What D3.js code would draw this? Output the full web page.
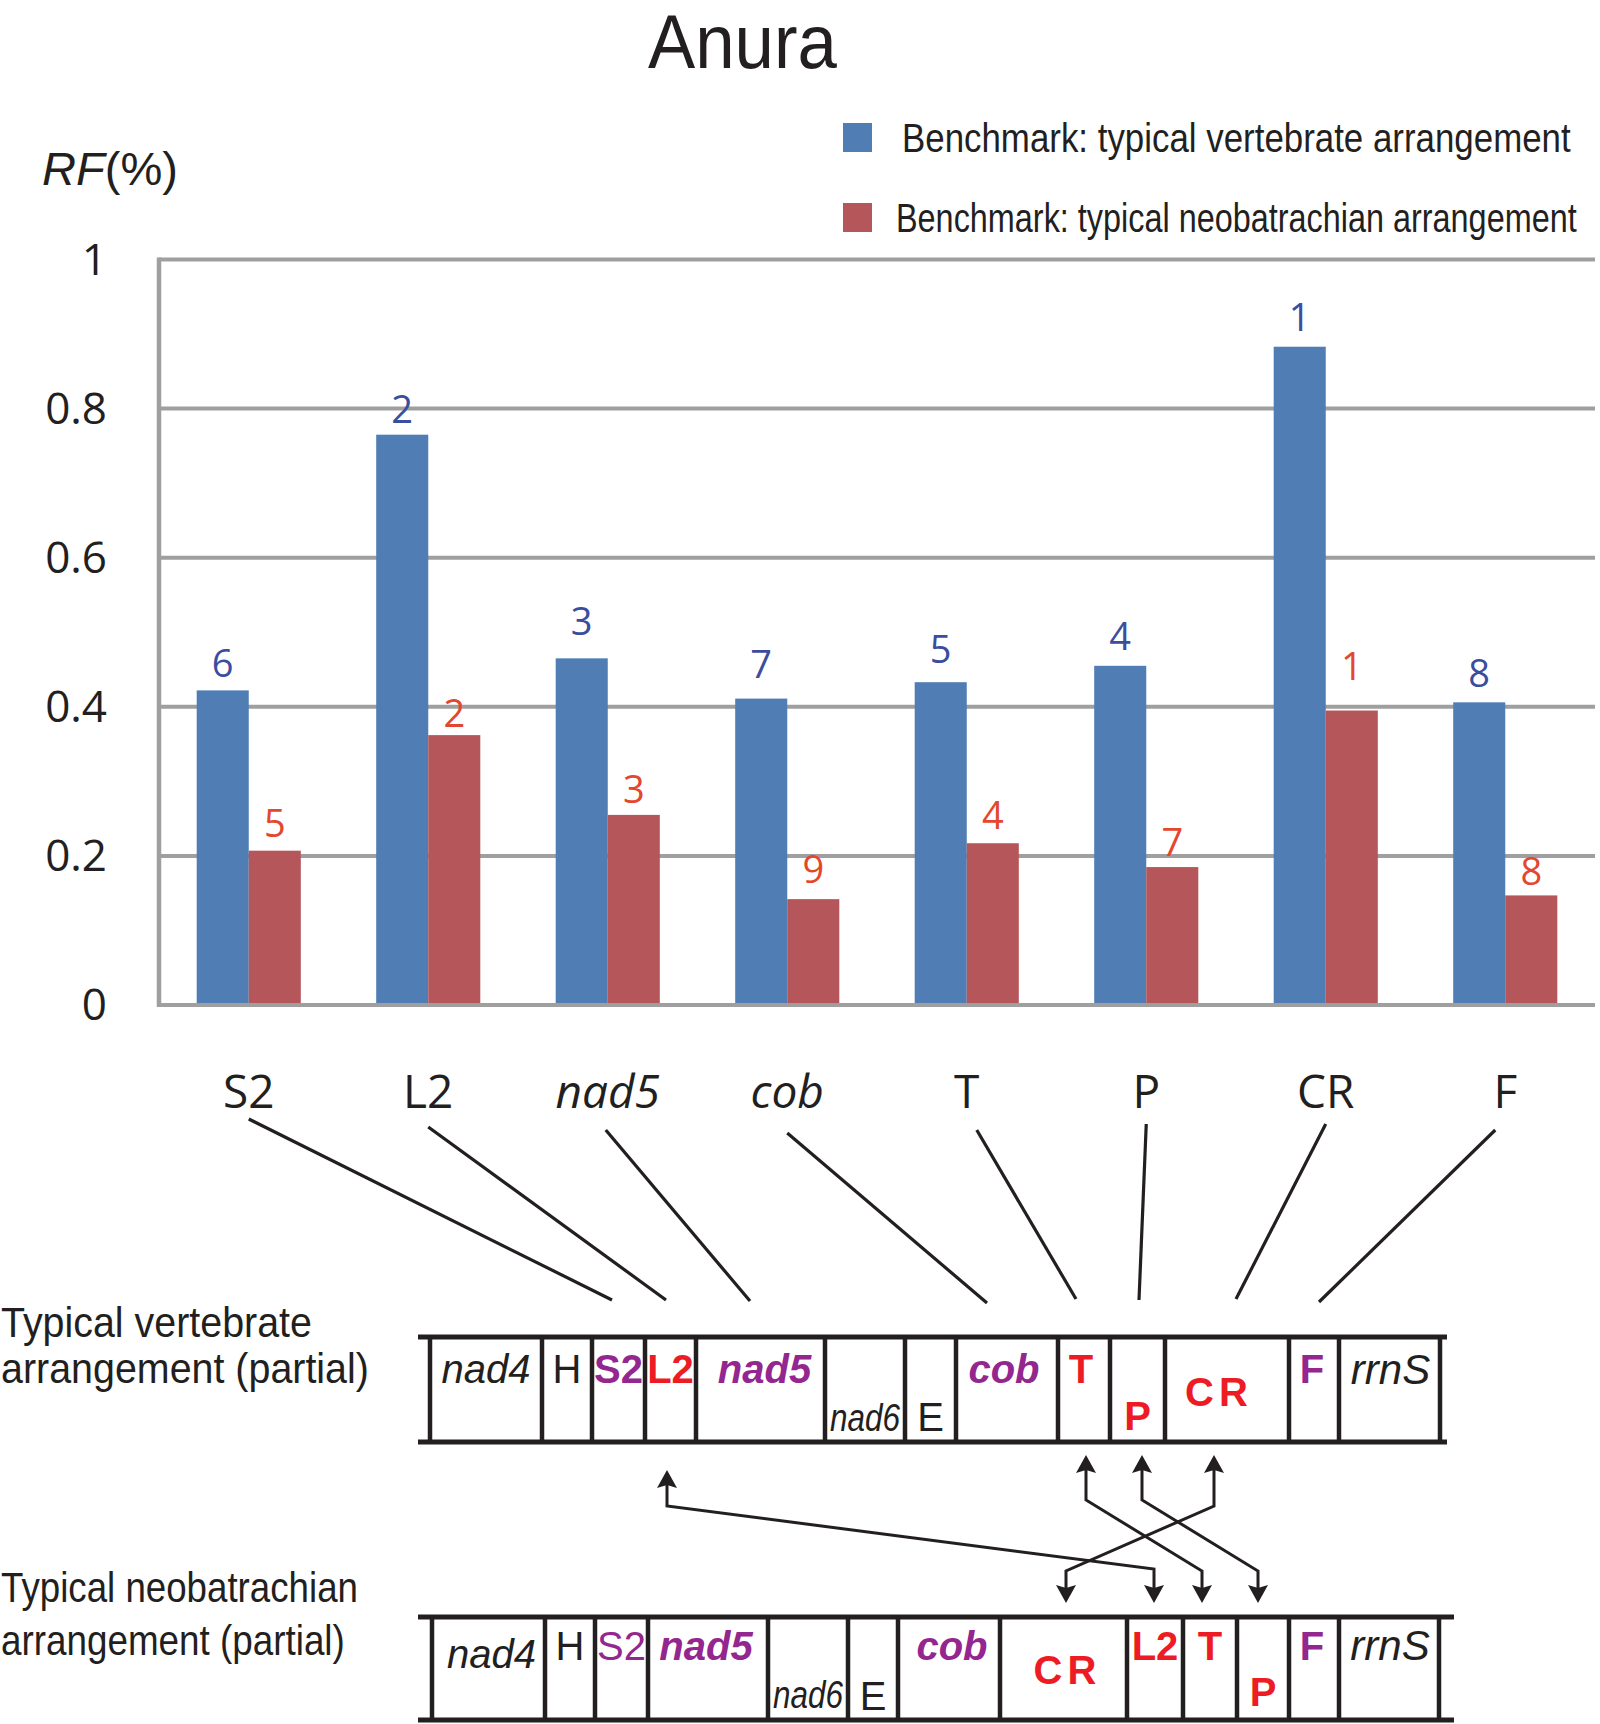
<!DOCTYPE html>
<html><head><meta charset="utf-8">
<script src="https://cdn.jsdelivr.net/npm/d3@7"></script>
<style>body{margin:0;background:#fff} svg{display:block}</style>
</head><body>
<svg id="chart" width="1600" height="1724"></svg>
<script>
// ---------------- DATA ----------------
const categories = ["S2","L2","nad5","cob","T","P","CR","F"];
const italicCategories = ["nad5","cob"];
const seriesNames = ["Benchmark: typical vertebrate arrangement","Benchmark: typical neobatrachian arrangement"];
const vertebrateRF = [0.422,0.765,0.465,0.411,0.433,0.455,0.883,0.406];
const neobatrachianRF = [0.207,0.362,0.255,0.142,0.217,0.185,0.395,0.147];
const vertebrateRank = [6,2,3,7,5,4,1,8];
const neobatrachianRank = [5,2,3,9,4,7,1,8];
const yTicks = [0,0.2,0.4,0.6,0.8,1];
const yTickLabels = ["0","0.2","0.4","0.6","0.8","1"];
const titleText = "Anura";
const yTitle = ["RF","(%)"];

const vertebrateGenes = ["nad4","H","S2","L2","nad5","nad6","E","cob","T","P","CR","F","rrnS"];
const neobatrachianGenes = ["nad4","H","S2","nad5","nad6","E","cob","CR","L2","T","P","F","rrnS"];
const rowTitles = [["Typical vertebrate","arrangement (partial)"],["Typical neobatrachian","arrangement (partial)"]];

// ---------------- LAYOUT / STYLE ----------------
const W = 1600, H = 1724;
const plot = {left:159, right:1595, top:259.5, bottom:1005};
const ink = "#231f20";
const blue = "#4f7db4", red = "#b5565a";
const blueLbl = "#3b4d9e", redLbl = "#e3472e";
const purple = "#93278f", geneRed = "#ed1c24";
const gridCol = "#9f9f9f";
// extra lift of the rank labels above their bars (px)
const labelLift = [[2,1,12,10,8,5,5,4],[3,-3,1,5,3,0,20,-1]];

const cellStyles = {
  it:  {fill:ink, style:"italic", weight:"normal"},
  reg: {fill:ink, style:"normal", weight:"normal"},
  pb:  {fill:purple, style:"normal", weight:"bold"},
  pbi: {fill:purple, style:"italic", weight:"bold"},
  pr:  {fill:purple, style:"normal", weight:"normal"},
  rb:  {fill:geneRed, style:"normal", weight:"bold"}
};
const rows = [
  {genes: vertebrateGenes, top:1337, bottom:1442, x0:418, x1:1447,
   dividers:[430,542,592,645,696,825,905,956,1058,1110,1165,1289,1339,1440],
   styles:["it","reg","pb","rb","pbi","it","reg","pbi","rb","rb","rb","pb","it"],
   base:[46,46,46,46,46,94,94,46,46,93,69,46,47],
   dx:[0,0,0,0,4,0,0,-3,-3,0,-8,-2,1]},
  {genes: neobatrachianGenes, top:1617, bottom:1720, x0:418, x1:1454,
   dividers:[432,545,595,648,768,848,898,1000,1127,1183,1237,1289,1339,1439],
   styles:["it","reg","pr","pbi","it","reg","pbi","rb","rb","rb","rb","pb","it"],
   base:[51,43,43,43,91,93,43,67,43,43,89,43,43],
   dx:[3,0,0,-2,0,0,3,4,0,0,0,-2,1]}
];
const connStartDx = [0,0,-2,0,10,0,0,-10];
const connStartY = [1119,1127,1130,1133,1130,1124,1124,1130];
const connEndX = [612,666,750,987,1076,1139,1236,1319];
const connEndY = [1300,1300,1301,1303,1299,1300,1299,1302];
const arrows = [
  [[667,1470],[667,1506],[1154,1569],[1154,1603]],
  [[1086,1455],[1086,1500],[1202,1571],[1202,1603]],
  [[1142,1455],[1142,1500],[1258,1571],[1258,1603]],
  [[1214,1455],[1214,1506],[1066,1571],[1066,1603]]
];

const svg = d3.select("#chart");
// horizontally compress/stretch a text to a target width (narrow typeface look)
function fitAt(sel, x, y, w){
  sel.attr("x",0).attr("y",0);
  const len = sel.node().getComputedTextLength();
  sel.attr("transform",`translate(${x},${y}) scale(${w/len},1)`);
  return sel;
}

// ---------------- SCALES ----------------
const x0 = d3.scaleBand().domain(categories).range([plot.left, plot.right]).paddingInner(0.42).paddingOuter(0.21);
const x1 = d3.scaleBand().domain([0,1]).range([0, x0.bandwidth()]);
const y = d3.scaleLinear().domain([0,1]).range([plot.bottom, plot.top]);

// title
fitAt(svg.append("text").attr("font-family","'Liberation Sans', Arial, sans-serif")
  .attr("font-size",76).attr("fill",ink).text(titleText), 648, 68, 189);

// y title
const yt = svg.append("text").attr("font-family","'Liberation Sans', Arial, sans-serif")
  .attr("font-size",47).attr("fill",ink);
yt.append("tspan").attr("font-style","italic").text(yTitle[0]);
yt.append("tspan").text(yTitle[1]);
fitAt(yt, 42, 185, 136);

// legend
const legendColors = [blue, red];
const legendPos = [[123,152,902,669],[203,232,896,681]];
seriesNames.forEach((n,i)=>{
  svg.append("rect").attr("x",843).attr("y",legendPos[i][0]).attr("width",29).attr("height",29).attr("fill",legendColors[i]);
  fitAt(svg.append("text").attr("font-family","'Liberation Sans', Arial, sans-serif")
    .attr("font-size",41).attr("fill",ink).text(n), legendPos[i][2], legendPos[i][1], legendPos[i][3]);
});

// gridlines
svg.append("g").selectAll("line").data(yTicks).join("line")
  .attr("x1",plot.left).attr("x2",plot.right).attr("y1",d=>y(d)).attr("y2",d=>y(d))
  .attr("stroke",gridCol).attr("stroke-width",4);
svg.append("line").attr("x1",plot.left).attr("x2",plot.left).attr("y1",y(1)-2).attr("y2",y(0)+2)
  .attr("stroke",gridCol).attr("stroke-width",4.5);

// y axis labels
const gy = svg.append("g").attr("transform","translate(107,0)")
  .call(d3.axisLeft(y).tickValues(yTicks).tickFormat((d,i)=>yTickLabels[i]).tickSize(0).tickPadding(0));
gy.select(".domain").remove();
gy.attr("font-family","'Open Sans', sans-serif").attr("font-size",44);
gy.selectAll("text").attr("fill",ink).attr("dy","0.34em");

// bars
const rf = [vertebrateRF, neobatrachianRF];
const ranks = [vertebrateRank, neobatrachianRank];
const barData = [];
categories.forEach((c,i)=>{ [0,1].forEach(s=>barData.push({c, s, i, v:rf[s][i], r:ranks[s][i]})); });
const gb = svg.append("g");
gb.selectAll("rect").data(barData).join("rect")
  .attr("x",d=>x0(d.c)+x1(d.s)).attr("width",x1.bandwidth())
  .attr("y",d=>y(d.v)).attr("height",d=>y(0)-y(d.v)-2)
  .attr("fill",d=>d.s===0?blue:red);
gb.selectAll("text").data(barData).join("text")
  .attr("x",d=>x0(d.c)+x1(d.s)+x1.bandwidth()/2).attr("y",d=>y(d.v)-11-labelLift[d.s][d.i])
  .attr("text-anchor","middle").attr("font-family","'Open Sans', sans-serif").attr("font-size",38)
  .attr("fill",d=>d.s===0?blueLbl:redLbl).text(d=>d.r);

// category labels
svg.append("g").selectAll("text").data(categories).join("text")
  .attr("x",d=>x0(d)+x0.bandwidth()/2).attr("y",1108).attr("text-anchor","middle")
  .attr("font-family","'Open Sans', sans-serif").attr("font-size",46)
  .attr("font-style",d=>italicCategories.includes(d)?"italic":"normal")
  .attr("fill",ink).text(d=>d);

// connectors
svg.append("g").selectAll("line").data(categories).join("line")
  .attr("x1",(d,i)=>x0(d)+x0.bandwidth()/2+connStartDx[i]).attr("y1",(d,i)=>connStartY[i])
  .attr("x2",(d,i)=>connEndX[i]).attr("y2",(d,i)=>connEndY[i])
  .attr("stroke",ink).attr("stroke-width",3.2);

// gene rows
rows.forEach((row,ri)=>{
  const g = svg.append("g");
  [row.top,row.bottom].forEach(yy=>g.append("line").attr("x1",row.x0).attr("x2",row.x1).attr("y1",yy).attr("y2",yy)
     .attr("stroke",ink).attr("stroke-width",5));
  row.dividers.forEach(xx=>g.append("line").attr("x1",xx).attr("x2",xx).attr("y1",row.top).attr("y2",row.bottom)
     .attr("stroke",ink).attr("stroke-width",4.5));
  row.genes.forEach((gname,i)=>{
    const st = cellStyles[row.styles[i]];
    const cx = (row.dividers[i]+row.dividers[i+1])/2 + row.dx[i];
    const cy = row.top+row.base[i];
    const t = g.append("text").attr("x",cx).attr("y",cy).attr("text-anchor","middle")
      .attr("font-family","'Liberation Sans', Arial, sans-serif").attr("font-size",40)
      .attr("font-style",st.style).attr("font-weight",st.weight).attr("fill",st.fill).text(gname);
    if (gname==="nad6") { t.attr("font-size",39); fitAt(t, cx, cy, 70); }
    if (gname==="CR") t.attr("letter-spacing",5);
    if (gname==="rrnS") t.attr("font-size",42);
  });
  const widths = ri===0 ? [311,368] : [357,344];
  const ys = ri===0 ? [1337,1383] : [1602,1655];
  rowTitles[ri].forEach((line,li)=>{
    fitAt(svg.append("text").attr("font-family","'Liberation Sans', Arial, sans-serif")
      .attr("font-size",43).attr("fill",ink).text(line), 1, ys[li], widths[li]);
  });
});

// arrows
const ga = svg.append("g");
const headLen = 18, headW = 10, notch = 3;
arrows.forEach(pts=>{
  const p = pts.map(d=>d.slice());
  const tipUp = pts[0], tipDn = pts[pts.length-1];
  p[0][1] += headLen - notch - 1;
  p[p.length-1][1] -= headLen - notch - 1;
  ga.append("path").attr("d", d3.line()(p)).attr("fill","none").attr("stroke",ink).attr("stroke-width",3)
    .attr("stroke-linejoin","miter");
  ga.append("path").attr("d",`M${tipUp[0]},${tipUp[1]} L${tipUp[0]+headW},${tipUp[1]+headLen} L${tipUp[0]},${tipUp[1]+headLen-notch} L${tipUp[0]-headW},${tipUp[1]+headLen} Z`).attr("fill",ink);
  ga.append("path").attr("d",`M${tipDn[0]},${tipDn[1]} L${tipDn[0]+headW},${tipDn[1]-headLen} L${tipDn[0]},${tipDn[1]-headLen+notch} L${tipDn[0]-headW},${tipDn[1]-headLen} Z`).attr("fill",ink);
});
</script>
</body></html>
